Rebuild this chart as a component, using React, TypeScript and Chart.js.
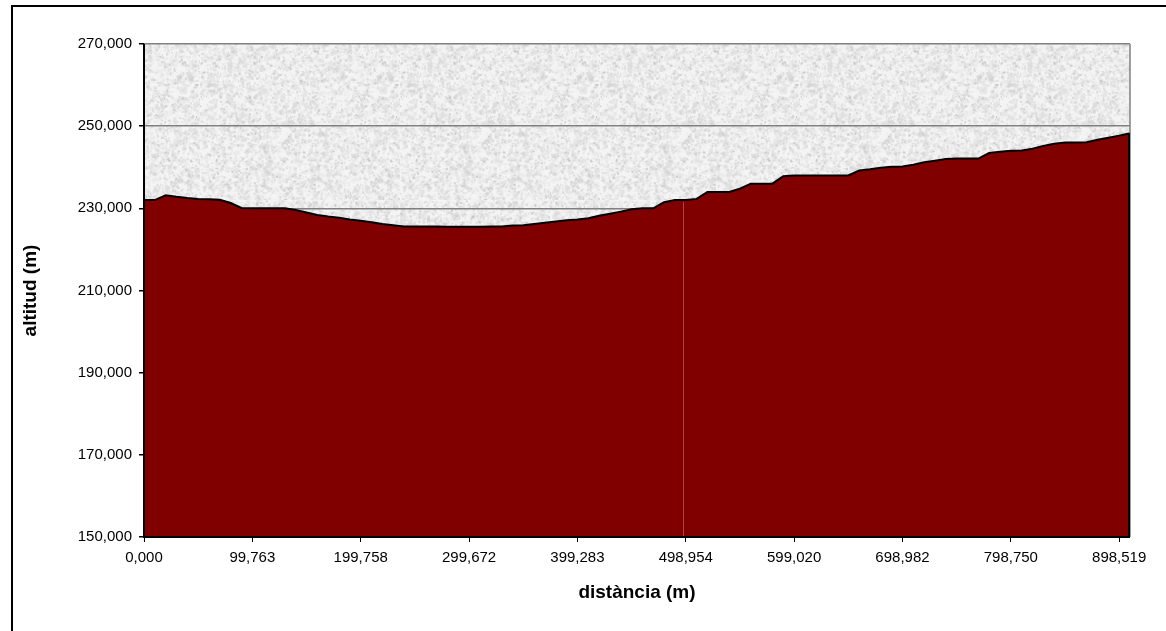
import React, { useEffect, useRef } from 'react';
import { Chart, registerables } from 'chart.js';

Chart.register(...registerables);

// x-axis tick labels (every 10th sample point)
const distanceTickLabels = [
  '0,000', '99,763', '199,758', '299,672', '399,283',
  '498,954', '599,020', '698,982', '798,750', '898,519',
];
const tickEvery = 10;

// altitude profile (m), one value per sample point
const altitude = [
  232.0, 232.0, 233.2, 232.8, 232.5, 232.3, 232.2, 232.1, 231.3, 230.1,
  230.0, 230.0, 230.0, 230.0, 229.6, 229.0, 228.4, 228.0, 227.7, 227.3,
  227.0, 226.6, 226.2, 225.9, 225.6, 225.6, 225.6, 225.6, 225.5, 225.5,
  225.5, 225.5, 225.6, 225.6, 225.8, 225.9, 226.2, 226.5, 226.8, 227.1,
  227.3, 227.6, 228.2, 228.7, 229.2, 229.8, 230.0, 230.0, 231.5, 232.0,
  232.0, 232.3, 234.0, 234.0, 234.0, 234.8, 236.0, 236.0, 236.0, 237.8,
  238.0, 238.0, 238.0, 238.0, 238.0, 238.0, 239.2, 239.5, 239.9, 240.1,
  240.2, 240.6, 241.2, 241.6, 242.0, 242.1, 242.1, 242.1, 243.5, 243.8,
  244.0, 244.1, 244.5, 245.2, 245.7, 246.0, 246.0, 246.1, 246.7, 247.2,
  247.7, 248.3,
];
const pointLabels = altitude.map((_, i) => String(i));

const yMin = 150;
const yMax = 270;
const yStep = 20;
const seamIndex = 50;

const FONT = '"Liberation Sans", Arial, sans-serif';

function makeGranite(): CanvasPattern | string {
  const size = 200;
  const c = document.createElement('canvas');
  c.width = size;
  c.height = size;
  const g = c.getContext('2d');
  if (!g) return '#ececec';
  g.fillStyle = '#f4f4f4';
  g.fillRect(0, 0, size, size);
  let s = 987654321;
  const rnd = () => {
    s = (Math.imul(s, 1664525) + 1013904223) >>> 0;
    return s / 4294967296;
  };
  // soft blotches
  for (let k = 0; k < 1800; k++) {
    const x = rnd() * size;
    const y = rnd() * size;
    const v = Math.round(200 + rnd() * 35);
    g.fillStyle = `rgba(${v},${v},${v},${0.2 + rnd() * 0.25})`;
    g.beginPath();
    g.ellipse(x, y, 1.5 + rnd() * 2.5, 1 + rnd() * 1.5, rnd() * Math.PI, 0, Math.PI * 2);
    g.fill();
  }
  // fine specks
  for (let k = 0; k < 6000; k++) {
    const x = rnd() * size;
    const y = rnd() * size;
    const v = Math.round(180 + rnd() * 60);
    g.fillStyle = `rgba(${v},${v},${v},${0.2 + rnd() * 0.35})`;
    g.fillRect(x, y, 1 + rnd() * 1.5, 1 + rnd() * 1.5);
  }
  return g.createPattern(c, 'repeat') || '#ececec';
}

export default function App() {
  const ref = useRef<HTMLCanvasElement | null>(null);

  useEffect(() => {
    const canvas = ref.current;
    if (!canvas) return;
    const pattern = makeGranite();

    const plotBg = {
      id: 'plotBg',
      beforeDraw(chart: any) {
        const { ctx, chartArea } = chart;
        ctx.save();
        ctx.fillStyle = pattern;
        ctx.fillRect(chartArea.left, chartArea.top, chartArea.right - chartArea.left, chartArea.bottom - chartArea.top);
        ctx.restore();
      },
    };

    const frame = {
      id: 'frame',
      afterDatasetsDraw(chart: any) {
        const { ctx, chartArea } = chart;
        const { left, right, top, bottom } = chartArea;
        const meta = chart.getDatasetMeta(0);
        ctx.save();
        // faint seam in the area
        const sp = meta.data[seamIndex];
        if (sp) {
          ctx.strokeStyle = 'rgba(255,170,170,0.4)';
          ctx.lineWidth = 1;
          ctx.beginPath();
          ctx.moveTo(Math.round(sp.x) - 2.5, sp.y + 2);
          ctx.lineTo(Math.round(sp.x) - 2.5, bottom);
          ctx.stroke();
        }
        // right border (gray)
        ctx.strokeStyle = '#808080';
        ctx.lineWidth = 1.5;
        ctx.beginPath();
        ctx.moveTo(right, top);
        ctx.lineTo(right, bottom);
        ctx.stroke();
        // area outline on right edge
        const last = meta.data[meta.data.length - 1];
        if (last) {
          ctx.strokeStyle = '#000';
          ctx.lineWidth = 2;
          ctx.beginPath();
          ctx.moveTo(right - 1, last.y);
          ctx.lineTo(right - 1, bottom);
          ctx.stroke();
        }
        // axes (black)
        ctx.strokeStyle = '#000';
        ctx.lineWidth = 2;
        ctx.beginPath();
        ctx.moveTo(left, top);
        ctx.lineTo(left, bottom);
        ctx.lineTo(right, bottom);
        ctx.stroke();
        ctx.restore();
      },
    };

    const chart = new Chart(canvas, {
      type: 'line',
      data: {
        labels: pointLabels,
        datasets: [
          {
            data: altitude,
            borderColor: '#000000',
            borderWidth: 2,
            backgroundColor: '#800000',
            fill: 'start',
            pointRadius: 0,
            tension: 0,
          },
        ],
      },
      options: {
        animation: false,
        responsive: false,
        maintainAspectRatio: false,
        devicePixelRatio: 1,
        layout: { padding: { left: 0, right: 36, top: 44, bottom: 0 } },
        plugins: {
          legend: { display: false },
          tooltip: { enabled: false },
        },
        scales: {
          x: {
            type: 'category',
            offset: false,
            border: { display: false },
            grid: {
              drawOnChartArea: false,
              tickLength: 5,
              tickWidth: 1,
              tickColor: (ctx: any) => (ctx.index % tickEvery === 0 ? '#000' : 'rgba(0,0,0,0)'),
            },
            ticks: {
              autoSkip: false,
              maxRotation: 0,
              minRotation: 0,
              padding: 7,
              color: '#000',
              font: { family: FONT, size: 15 },
              callback: (_v: any, i: number) => (i % tickEvery === 0 ? distanceTickLabels[i / tickEvery] ?? '' : ''),
            },
            title: {
              display: true,
              text: 'distància (m)',
              color: '#000',
              font: { family: FONT, size: 19, weight: 'bold' },
              padding: { top: 0, bottom: 27 },
            },
            afterFit: (scale: any) => {
              scale.height = 94;
            },
          },
          y: {
            type: 'linear',
            min: yMin,
            max: yMax,
            border: { display: false },
            grid: {
              color: '#808080',
              lineWidth: 1.5,
              tickLength: 5,
              tickColor: '#000',
            },
            ticks: {
              stepSize: yStep,
              padding: 7,
              color: '#000',
              font: { family: FONT, size: 15 },
              callback: (v: any) => Number(v).toFixed(3).replace('.', ','),
            },
            title: {
              display: true,
              text: 'altitud (m)',
              color: '#000',
              font: { family: FONT, size: 19, weight: 'bold' },
              padding: { top: 19, bottom: 0 },
            },
            afterFit: (scale: any) => {
              scale.width = 144;
            },
          },
        },
      },
      plugins: [plotBg, frame],
    });

    return () => chart.destroy();
  }, []);

  return (
    <div style={{ position: 'fixed', left: 0, top: 0, width: 1166, height: 631, overflow: 'hidden', background: '#fff' }}>
      <div
        style={{
          position: 'absolute',
          left: 11,
          top: 5,
          width: 1220,
          height: 700,
          border: '2px solid #000',
          boxSizing: 'border-box',
        }}
      />
      <canvas ref={ref} width={1166} height={631} style={{ position: 'absolute', left: 0, top: 0, width: 1166, height: 631 }} />
    </div>
  );
}
